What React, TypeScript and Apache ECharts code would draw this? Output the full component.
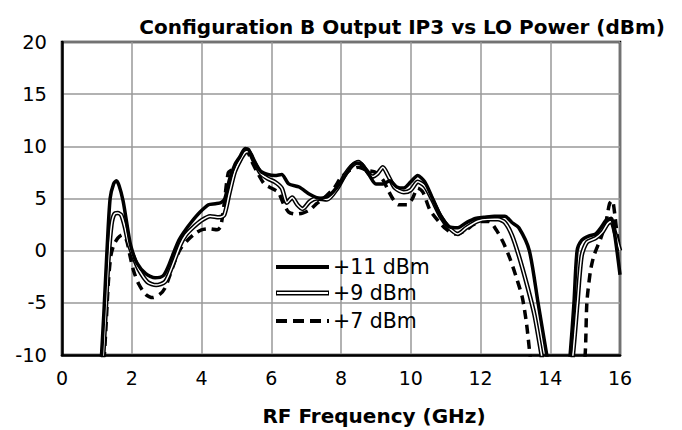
import React, { useEffect, useRef } from "react";
import * as echarts from "echarts";

const xTicks = [0, 2, 4, 6, 8, 10, 12, 14, 16];
const yTicks = [-10, -5, 0, 5, 10, 15, 20];

const seriesNames = ["+11 dBm", "+9 dBm", "+7 dBm"];

// +11 dBm LO power (solid thick)
const lo11: [number, number][] = [
  [1.1, -12], [1.2, -6], [1.29, 0], [1.38, 5], [1.48, 6.4], [1.56, 6.7], [1.64, 6.2],
  [1.75, 4.8], [1.85, 2.8], [1.97, 0.5], [2.15, -1.2], [2.4, -2.2], [2.67, -2.6],
  [2.9, -2.4], [3.05, -1.5], [3.2, -0.2], [3.35, 1.0], [3.5, 1.8], [3.7, 2.7],
  [3.96, 3.7], [4.2, 4.4], [4.4, 4.5], [4.55, 4.6], [4.67, 5.0], [4.8, 6.8],
  [4.95, 8.2], [5.1, 9.0], [5.25, 9.8], [5.35, 9.7], [5.5, 8.6], [5.7, 7.6],
  [5.9, 7.3], [6.1, 7.2], [6.3, 7.3], [6.5, 6.4], [6.8, 6.1], [7.1, 5.4], [7.4, 5.0],
  [7.7, 5.4], [8.0, 6.6], [8.2, 7.6], [8.4, 8.4], [8.6, 8.3], [8.8, 7.3], [9.0, 6.4],
  [9.2, 6.4], [9.4, 6.7], [9.6, 6.1], [9.8, 6.0], [10.0, 6.6], [10.2, 7.2], [10.4, 6.6],
  [10.6, 5.2], [10.85, 3.4], [11.1, 2.3], [11.35, 2.2], [11.6, 2.7], [11.85, 3.1],
  [12.1, 3.2], [12.4, 3.3], [12.7, 3.3], [12.9, 2.7], [13.1, 2.2], [13.4, 0],
  [13.65, -5], [13.9, -10], [14.0, -12], [14.5, -12], [14.57, -10], [14.68, -5],
  [14.77, 0], [14.9, 1.0], [15.1, 1.4], [15.3, 1.6], [15.45, 2.2], [15.6, 2.9],
  [15.75, 3.1], [15.85, 1.5], [16.0, -2.3],
];

// +9 dBm LO power (double line)
const lo9: [number, number][] = [
  [1.15, -12], [1.25, -6], [1.33, -1], [1.42, 2.5], [1.5, 3.5], [1.6, 3.6], [1.7, 3.4],
  [1.8, 2.3], [1.9, 0.8], [2.05, -0.6], [2.2, -1.8], [2.45, -3.0], [2.7, -3.3],
  [2.95, -3.0], [3.1, -2.0], [3.25, -0.7], [3.4, 0.6], [3.55, 1.5], [3.75, 2.2],
  [4.0, 2.9], [4.25, 3.3], [4.5, 3.2], [4.65, 3.4], [4.8, 5.5], [4.95, 7.5],
  [5.1, 8.6], [5.25, 9.4], [5.35, 9.5], [5.5, 8.6], [5.7, 7.4], [5.9, 6.9],
  [6.1, 6.6], [6.3, 6.0], [6.45, 4.6], [6.6, 5.1], [6.75, 4.4], [6.9, 4.0],
  [7.1, 4.7], [7.3, 5.0], [7.6, 4.9], [7.9, 6.0], [8.1, 7.2], [8.3, 8.1], [8.5, 8.5],
  [8.7, 7.8], [8.9, 7.1], [9.05, 7.4], [9.2, 8.0], [9.35, 7.2], [9.55, 6.0],
  [9.8, 5.6], [10.0, 5.8], [10.2, 6.6], [10.4, 6.2], [10.6, 5.0], [10.85, 3.3],
  [11.1, 2.2], [11.35, 1.6], [11.6, 2.2], [11.9, 2.8], [12.2, 3.0], [12.5, 3.0],
  [12.7, 2.7], [12.9, 1.5], [13.1, -0.5], [13.35, -3.5], [13.55, -6.2], [13.75, -10],
  [13.85, -12], [14.55, -12], [14.65, -10], [14.78, -5], [14.9, -0.5], [15.05, 0.8],
  [15.3, 1.2], [15.5, 1.8], [15.65, 2.6], [15.75, 2.8], [15.85, 1.8], [16.0, 0],
];

// +7 dBm LO power (dashed)
const lo7: [number, number][] = [
  [1.18, -12], [1.25, -8], [1.33, -3], [1.4, -0.5], [1.48, 0.5], [1.6, 1.2],
  [1.72, 1.5], [1.85, 1.0], [1.95, -0.5], [2.05, -1.9], [2.2, -3.2], [2.4, -4.2],
  [2.6, -4.5], [2.8, -4.2], [2.95, -3.6], [3.1, -2.3], [3.25, -0.9], [3.4, 0.2],
  [3.6, 1.0], [3.8, 1.6], [4.0, 2.0], [4.2, 2.1], [4.45, 2.0], [4.55, 2.3],
  [4.65, 4.5], [4.77, 7.5], [4.9, 7.8], [5.05, 8.3], [5.2, 9.2], [5.3, 9.5],
  [5.45, 8.5], [5.6, 7.5], [5.8, 6.4], [6.0, 6.0], [6.2, 5.6], [6.35, 4.5],
  [6.5, 3.7], [6.7, 3.5], [6.9, 3.6], [7.1, 3.9], [7.3, 4.5], [7.5, 5.0],
  [7.8, 6.0], [8.0, 7.0], [8.25, 7.7], [8.5, 8.0], [8.75, 7.7], [9.0, 7.5],
  [9.2, 6.8], [9.35, 5.8], [9.5, 4.9], [9.65, 4.4], [9.9, 4.4], [10.05, 5.0],
  [10.2, 6.0], [10.35, 5.6], [10.55, 3.9], [10.8, 2.8], [11.0, 2.1], [11.25, 1.6],
  [11.5, 1.8], [11.8, 2.5], [12.0, 2.8], [12.25, 2.8], [12.45, 2.0], [12.65, 0.8],
  [12.85, -0.8], [13.05, -2.8], [13.2, -4.5], [13.32, -7], [13.42, -10], [13.5, -12],
  [14.9, -12], [15.0, -10], [15.05, -5], [15.15, -2], [15.25, -0.5], [15.45, 1.2],
  [15.6, 2.8], [15.7, 4.5], [15.78, 4.8], [15.85, 3.5], [15.92, 1.5], [16.0, 0],
];

const FONT = "DejaVu Sans";

export default function App() {
  const ref = useRef<HTMLDivElement>(null);
  useEffect(() => {
    document.body.style.margin = "0";
    if (!ref.current) return;
    const chart = echarts.init(ref.current, undefined, { renderer: "svg" });
    const smooth = 0.25;
    const legendY = [267, 293, 321];
    chart.setOption({
      animation: false,
      backgroundColor: "#fff",
      title: {
        text: "Configuration B Output IP3 vs LO Power (dBm)",
        right: 12,
        top: 12,
        textStyle: { fontFamily: FONT, fontSize: 20, fontWeight: "bold", color: "#000" },
      },
      grid: {
        left: 62, top: 42, width: 558, height: 313,
        show: true, borderColor: "#000", borderWidth: 2.5, backgroundColor: "transparent",
      },
      xAxis: {
        type: "value", min: xTicks[0], max: xTicks[xTicks.length - 1], interval: 2,
        axisLine: { show: true, onZero: false, lineStyle: { color: "#000", width: 2.5 } },
        axisTick: { show: false },
        axisLabel: { fontFamily: FONT, fontSize: 19, color: "#000", margin: 13 },
        splitLine: { show: true, lineStyle: { color: "#999", width: 1.5 } },
      },
      yAxis: {
        type: "value", min: yTicks[0], max: yTicks[yTicks.length - 1], interval: 5,
        axisLine: { show: true, onZero: false, lineStyle: { color: "#000", width: 2.5 } },
        axisTick: { show: false },
        axisLabel: { fontFamily: FONT, fontSize: 19.5, color: "#000", margin: 15 },
        splitLine: { show: true, lineStyle: { color: "#999", width: 1.5 } },
      },
      series: [
        {
          name: seriesNames[2], type: "line", data: lo7, showSymbol: false, smooth,
          lineStyle: { color: "#000", width: 3.5, type: [9, 6] }, z: 2,
        },
        {
          name: seriesNames[1], type: "line", data: lo9, showSymbol: false, smooth,
          lineStyle: { color: "#000", width: 4.5 }, z: 3,
        },
        {
          name: seriesNames[1] + " inner", type: "line", data: lo9, showSymbol: false, smooth,
          lineStyle: { color: "#fff", width: 1.5 }, z: 4,
        },
        {
          name: seriesNames[0], type: "line", data: lo11, showSymbol: false, smooth,
          lineStyle: { color: "#000", width: 3.5 }, z: 5,
        },
      ],
      graphic: [
        {
          type: "text", x: 374, y: 416, z: 12,
          style: {
            text: "RF Frequency (GHz)", fontFamily: FONT, fontSize: 20, fontWeight: "bold",
            fill: "#000", align: "center", verticalAlign: "middle",
          },
        },
        { type: "line", shape: { x1: 276, y1: legendY[0], x2: 329, y2: legendY[0] }, style: { stroke: "#000", lineWidth: 4 }, z: 10 },
        { type: "line", shape: { x1: 276, y1: legendY[1], x2: 329, y2: legendY[1] }, style: { stroke: "#000", lineWidth: 5 }, z: 10 },
        { type: "line", shape: { x1: 277, y1: legendY[1], x2: 328, y2: legendY[1] }, style: { stroke: "#fff", lineWidth: 2 }, z: 11 },
        { type: "line", shape: { x1: 276, y1: legendY[2], x2: 329, y2: legendY[2] }, style: { stroke: "#000", lineWidth: 4, lineDash: [11, 6] }, z: 10 },
        ...seriesNames.map((n, i) => ({
          type: "text", x: 333, y: legendY[i], z: 12,
          style: { text: n, fontFamily: FONT, fontSize: 20.5, fill: "#000", verticalAlign: "middle" },
        })),
      ],
    });
    return () => chart.dispose();
  }, []);
  return <div ref={ref} style={{ width: 682, height: 430 }} />;
}
